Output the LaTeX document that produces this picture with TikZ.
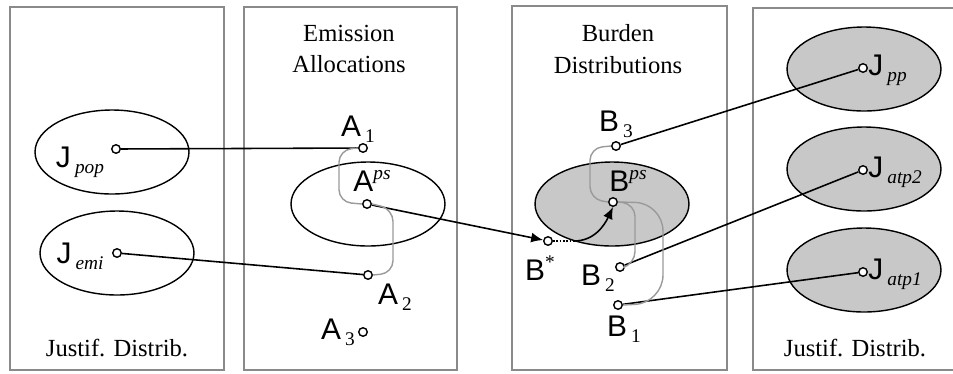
\documentclass[tikz,border=0pt]{standalone}
\usepackage{fontspec}
\setmainfont{Liberation Serif}
\newfontfamily\lblfont{Liberation Sans}
\usepackage{xcolor}
\usetikzlibrary{positioning, shapes.geometric, arrows.meta}
\definecolor{panelx}{HTML}{8A8A8A}
\definecolor{linkx}{HTML}{9A9A9A}
\definecolor{fillx}{HTML}{C8C8C8}
\newcommand{\lsub}[2]{{\lblfont\fontsize{17}{17}\selectfont #1}\,\raisebox{-0.5ex}{\fontsize{11}{11}\selectfont #2}}
\newcommand{\lsup}[2]{{\lblfont\fontsize{17}{17}\selectfont #1}\raisebox{1.1ex}{\fontsize{11}{11}\selectfont #2}}

\begin{document}
\begin{tikzpicture}[
  x=0.02cm, y=-0.02cm,
  font=\fontsize{14}{16}\selectfont,
  panel/.style={draw=panelx, line width=0.9pt},
  title/.style={align=center, inner sep=0pt},
  blob/.style={ellipse, draw, line width=0.8pt, minimum width=3.08cm, minimum height=1.68cm},
  dot/.style={circle, draw, fill=white, line width=0.8pt, minimum size=0.17cm, inner sep=0pt},
  lab/.style={inner sep=0pt},
  link/.style={draw=linkx, line width=0.8pt, rounded corners=7pt},
  arr/.style={-{Latex[length=2.4mm, width=2mm]}, line width=0.9pt},
  wire/.style={line width=0.9pt},
]
\useasboundingbox (0,0) rectangle (953,373);

\draw[panel] (10,7) rectangle (224,370);
\draw[panel] (244,7) rectangle (457,370);
\draw[panel] (512,6) rectangle (727,370);
\draw[panel] (753,8) rectangle (960,370);

\node[title] (t1) at (349,49) {Emission\\[2pt]Allocations};
\node[title] (t2) at (618,49) {Burden\\[2pt]Distributions};
\node[title] (t3) at (117,348) {Justif. Distrib.};
\node[title] (t4) at (855,348) {Justif. Distrib.};

\node[blob] (epop) at (112,152) {};
\node[blob] (eemi) at (117,253) {};
\node[blob] (eaps) at (368,204) {};
\node[blob, fill=fillx] (ebps) at (612,204) {};
\node[blob, fill=fillx] (epp) at (864,69) {};
\node[blob, fill=fillx] (eatp2) at (864,169) {};
\node[blob, fill=fillx] (eatp1) at (864,270) {};

\node[dot] (jpop) at (116,149) {};
\node[dot] (jemi) at (117,253) {};
\node[dot] (a1) at (363,148) {};
\node[dot] (aps) at (367,204) {};
\node[dot] (a2) at (368,275) {};
\node[dot] (a3) at (363,332) {};
\node[dot] (b3) at (616,146) {};
\node[dot] (bps) at (613,202) {};
\node[dot] (bs) at (548,241) {};
\node[dot] (b2) at (620,267) {};
\node[dot] (b1) at (618,305) {};
\node[dot] (jpp) at (863,68) {};
\node[dot] (jatp2) at (863,170) {};
\node[dot] (jatp1) at (863,272) {};

\node[lab] at (80,162) {\lsub{J}{\itshape pop}};
\node[lab] at (80,256) {\lsub{J}{\itshape emi}};
\node[lab] at (358,129) {\lsub{A}{1}};
\node[lab] at (372,181) {\lsup{A}{\itshape ps}};
\node[lab] at (395,297) {\lsub{A}{2}};
\node[lab] at (338,332) {\lsub{A}{3}};
\node[lab] at (616,124) {\lsub{B}{3}};
\node[lab] at (628,181) {\lsup{B}{\itshape ps}};
\node[lab] at (540,268) {\lsup{B}{*}};
\node[lab] at (598,278) {\lsub{B}{2}};
\node[lab] at (624,329) {\lsub{B}{1}};
\node[lab, anchor=west] at (868,70) {\lsub{J}{\itshape pp}};
\node[lab, anchor=west] at (868,172) {\lsub{J}{\itshape atp2}};
\node[lab, anchor=west] at (868,274) {\lsub{J}{\itshape atp1}};

\draw[wire] (jpop) -- (a1);
\draw[wire] (jemi) -- (a2);
\draw[arr] (aps) -- (bs);
\draw[wire] (b3) -- (jpp);
\draw[wire] (b2) -- (jatp2);
\draw[wire] (b1) -- (jatp1);

\draw[link] (a1.west) -- (339,150) -- (339,202) -- (aps.west);
\draw[link] (aps.east) -- (393,209) -- (393,273) -- (a2.east);
\draw[link] (b3.west) -- (590,148) -- (590,199) -- (bps.west);
\draw[link] (bps.east) -- (635,204) -- (635,264) -- (b2.east);
\draw[link, rounded corners=16pt] (bps.east) -- (663,203) -- (663,303) -- (b1.east);

\coordinate (bd) at (574,241);
\draw[wire, densely dotted] (bs.east) -- (bd);
\draw[arr] (bd) to[out=0, in=-115] (bps.south);
\end{tikzpicture}
\end{document}
